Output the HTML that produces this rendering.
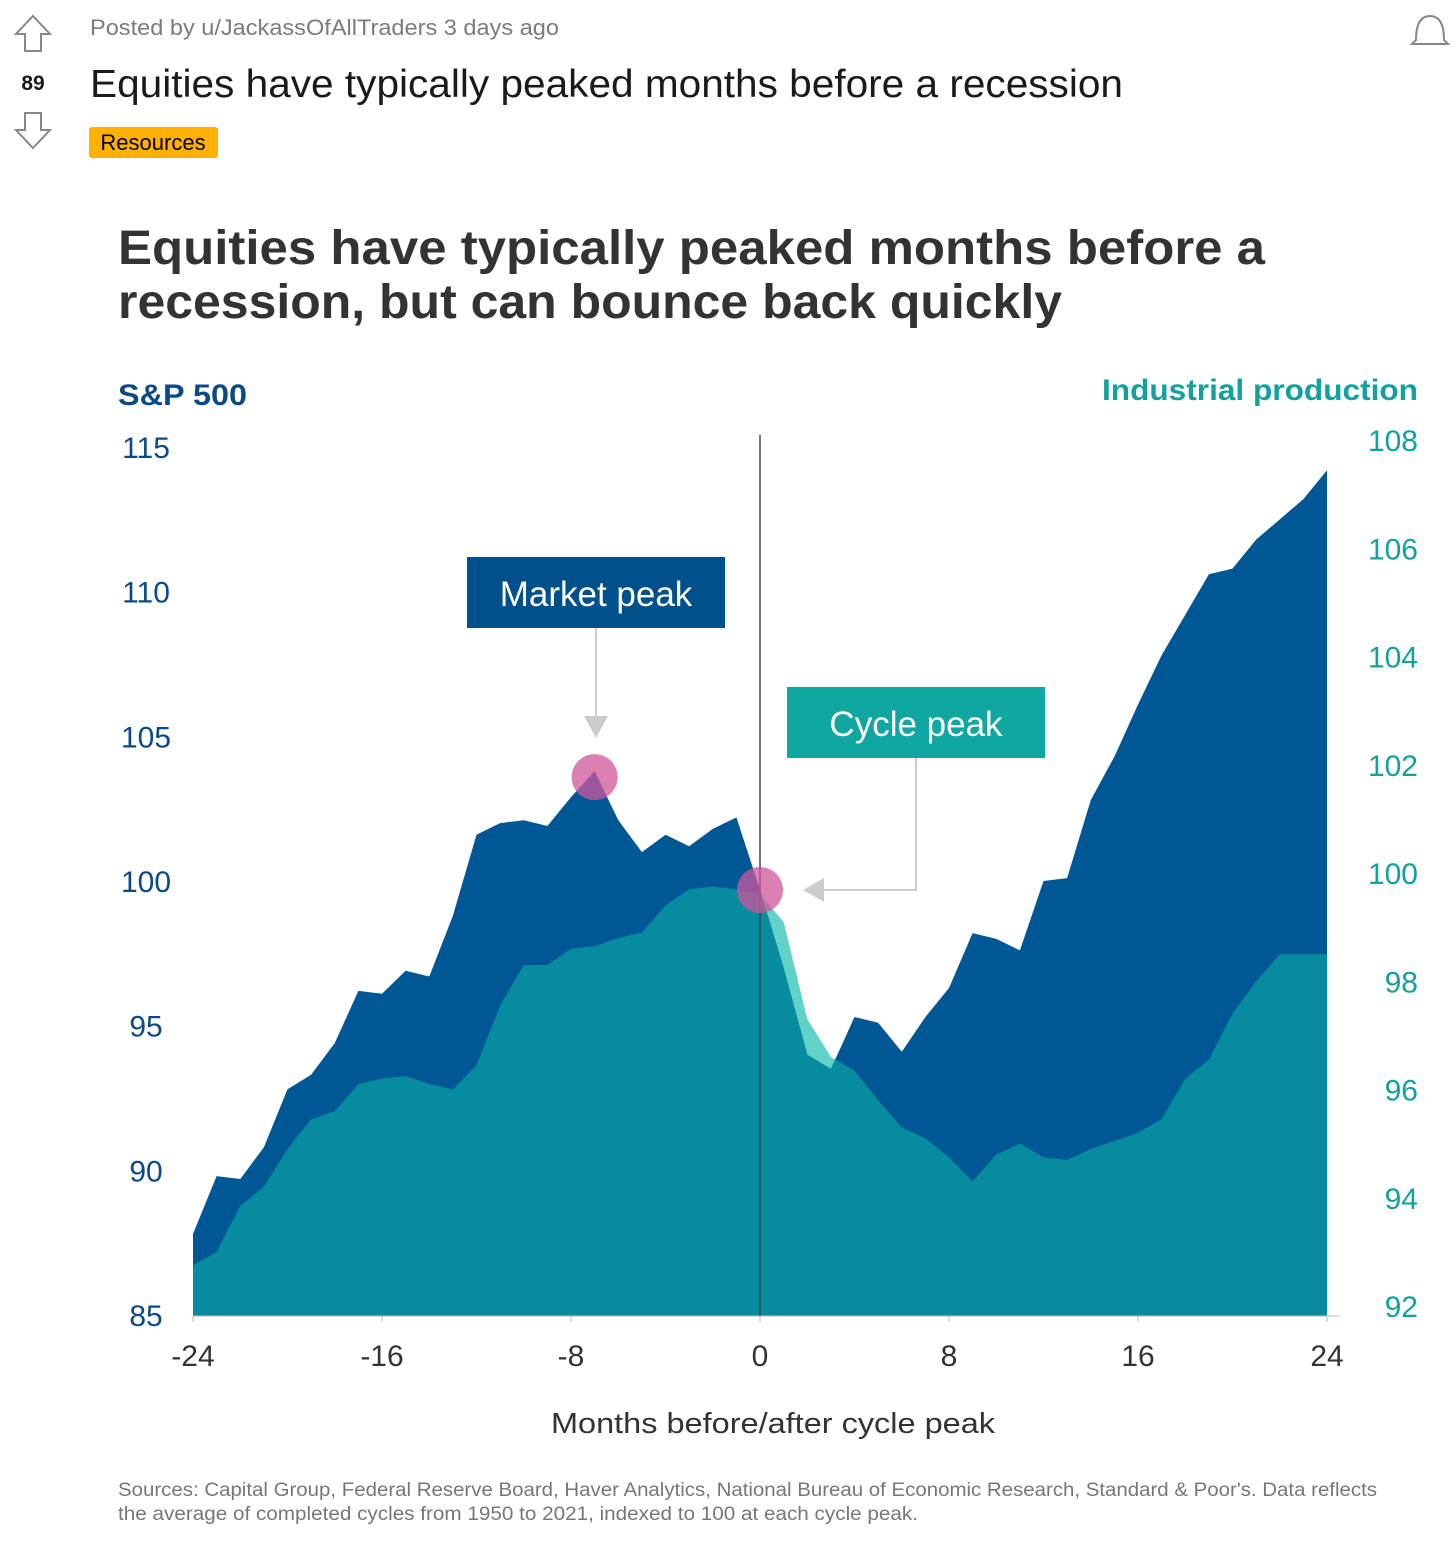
<!DOCTYPE html>
<html><head><meta charset="utf-8"><style>
body{margin:0;background:#fff;width:1456px;height:1557px;overflow:hidden;font-family:"Liberation Sans",sans-serif}
</style></head><body>
<svg width="1456" height="1557" viewBox="0 0 1456 1557" font-family="Liberation Sans, sans-serif">
<g><path d="M33 16 L50 34 L41 34 L41 51 L25 51 L25 34 L16 34 Z" fill="none" stroke="#888" stroke-width="2"/></g>
<text x="33" y="90" text-anchor="middle" font-size="21" font-weight="bold" fill="#1a1a1b">89</text>
<g><path d="M33 148 L50 130 L41 130 L41 113 L25 113 L25 130 L16 130 Z" fill="none" stroke="#888" stroke-width="2"/></g>
<text x="90" y="35" font-size="22" fill="#787c7e" textLength="469" lengthAdjust="spacingAndGlyphs">Posted by u/JackassOfAllTraders 3 days ago</text>
<text x="90" y="97" font-size="39" fill="#1a1a1b" textLength="1033" lengthAdjust="spacingAndGlyphs">Equities have typically peaked months before a recession</text>
<rect x="89" y="127" width="129" height="31" rx="3" fill="#ffb000"/>
<text x="153" y="150" text-anchor="middle" font-size="22" fill="#000">Resources</text>
<path d="M1416 40 Q1416 16 1430 16 Q1444 16 1444 40 L1448 44 L1412 44 Z" fill="none" stroke="#888" stroke-width="2"/>
<text x="118" y="264" font-size="48" font-weight="bold" fill="#333" textLength="1147" lengthAdjust="spacingAndGlyphs">Equities have typically peaked months before a</text>
<text x="118" y="318" font-size="48" font-weight="bold" fill="#333" textLength="944" lengthAdjust="spacingAndGlyphs">recession, but can bounce back quickly</text>
<text x="118" y="405" font-size="30" font-weight="bold" fill="#0b4a86" textLength="129" lengthAdjust="spacingAndGlyphs">S&amp;P 500</text>
<text x="1418" y="400" text-anchor="end" font-size="30" font-weight="bold" fill="#12a19c" textLength="316" lengthAdjust="spacingAndGlyphs">Industrial production</text>
<g id="chart"></g>
<text x="551" y="1433" font-size="29" fill="#333" textLength="444" lengthAdjust="spacingAndGlyphs">Months before/after cycle peak</text>
<text x="118" y="1496" font-size="19" fill="#777" textLength="1259" lengthAdjust="spacingAndGlyphs">Sources: Capital Group, Federal Reserve Board, Haver Analytics, National Bureau of Economic Research, Standard &amp; Poor's. Data reflects</text>
<text x="118" y="1520" font-size="19" fill="#777" textLength="800" lengthAdjust="spacingAndGlyphs">the average of completed cycles from 1950 to 2021, indexed to 100 at each cycle peak.</text>
</svg>
<script>
const months=[-24,-23,-22,-21,-20,-19,-18,-17,-16,-15,-14,-13,-12,-11,-10,-9,-8,-7,-6,-5,-4,-3,-2,-1,0,1,2,3,4,5,6,7,8,9,10,11,12,13,14,15,16,17,18,19,20,21,22,23,24];
const sp500=[87.8,89.8,89.7,90.8,92.8,93.3,94.4,96.2,96.1,96.9,96.7,98.8,101.6,102.0,102.1,101.9,102.9,103.8,102.1,101.0,101.6,101.2,101.8,102.2,99.7,97.0,94.0,93.5,95.3,95.1,94.1,95.3,96.3,98.2,98.0,97.6,100.0,100.1,102.8,104.3,106.1,107.8,109.2,110.6,110.8,111.8,112.5,113.2,114.2];
const indProd=[92.75,93.0,93.85,94.2,94.9,95.45,95.6,96.1,96.2,96.25,96.1,96.0,96.45,97.55,98.3,98.3,98.6,98.65,98.8,98.9,99.4,99.7,99.75,99.7,99.6,99.1,97.3,96.6,96.35,95.8,95.3,95.1,94.75,94.3,94.8,95.0,94.75,94.7,94.9,95.05,95.2,95.45,96.2,96.55,97.4,98.0,98.5,98.5,98.5];
const leftTicks=[85,90,95,100,105,110,115];
const rightTicks=[92,94,96,98,100,102,104,106,108];
const xTicks=[-24,-16,-8,0,8,16,24];
const NS='http://www.w3.org/2000/svg';
const X=m=>193+(m+24)*1134/48;
const YL=v=>881-(v-100)*28.93;
const YR=v=>873-(v-100)*54.125;
const base=1316;
const g=document.getElementById('chart');
function mk(t,a,p){const e=document.createElementNS(NS,t);for(const k in a)e.setAttribute(k,a[k]);(p||g).appendChild(e);return e;}
function area(vals,f){let d='M'+X(months[0])+','+base;months.forEach((m,i)=>d+=' L'+X(m).toFixed(1)+','+f(vals[i]).toFixed(1));d+=' L'+X(months[months.length-1])+','+base+' Z';return d;}
const defs=mk('defs',{});
const cp=mk('clipPath',{id:'spclip'},defs);
mk('path',{d:area(sp500,YL)},cp);
let e=mk('path',{d:area(indProd,YR),fill:'#62d2c9'});

e=mk('path',{d:area(sp500,YL),fill:'#005796'});

e=mk('path',{d:area(indProd,YR),fill:'#078c9f','clip-path':'url(#spclip)'});

e=mk('line',{x1:193,x2:1340,y1:base,y2:base,stroke:'#bbb','stroke-width':1});

e=mk('line',{x1:X(0),x2:X(0),y1:435,y2:base,stroke:'#444','stroke-width':1.5});

leftTicks.forEach(v=>{const t=mk('text',{x:146,y:YL(v)+11,'text-anchor':'middle','font-size':30,fill:'#0b4a86'});t.textContent=v;
});
rightTicks.forEach(v=>{const t=mk('text',{x:1418,y:YR(v)+11,'text-anchor':'end','font-size':30,fill:'#12a19c'});t.textContent=v;
});
xTicks.forEach(v=>{const t=mk('text',{x:X(v),y:1366,'text-anchor':'middle','font-size':30,fill:'#333'});t.textContent=v;

const l=mk('line',{x1:X(v),x2:X(v),y1:base,y2:base+6,stroke:'#bbb'});});
e=mk('rect',{x:467,y:557,width:258,height:71,fill:'#00508c'});
e=mk('text',{x:596,y:606,'text-anchor':'middle','font-size':35,fill:'#fff'});e.textContent='Market peak';
e=mk('line',{x1:596,x2:596,y1:628,y2:718,stroke:'#ccc','stroke-width':2});
e=mk('path',{d:'M584 716 L608 716 L596 738 Z',fill:'#ccc'});
e=mk('rect',{x:787,y:687,width:258,height:71,fill:'#10a7a0'});
e=mk('text',{x:916,y:736,'text-anchor':'middle','font-size':35,fill:'#fff'});e.textContent='Cycle peak';
e=mk('path',{d:'M916 758 L916 890 L822 890',fill:'none',stroke:'#ccc','stroke-width':2});
e=mk('path',{d:'M824 878 L824 902 L803 890 Z',fill:'#ccc'});
e=mk('circle',{cx:X(-7),cy:YL(sp500[17])+6,r:23,fill:'#d0559b','fill-opacity':0.75});
e=mk('circle',{cx:X(0),cy:890,r:23,fill:'#d0559b','fill-opacity':0.75});
</script>
</body></html>
